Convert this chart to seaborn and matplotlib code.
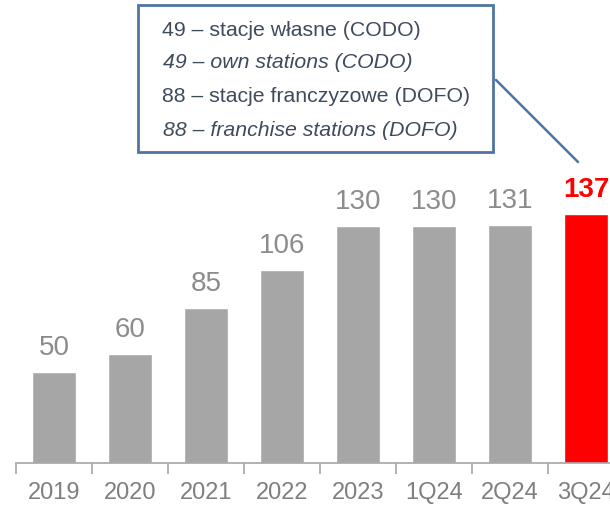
import seaborn as sns
import matplotlib.pyplot as plt
import pandas as pd
from matplotlib.patches import Rectangle
from matplotlib.lines import Line2D

# Dane
okresy = ['2019', '2020', '2021', '2022', '2023', '1Q24', '2Q24', '3Q24']
stacje = [50, 60, 85, 106, 130, 130, 131, 137]
kolory = ['#a6a6a6'] * 7 + ['#ff0000']
opis = ['49 – stacje własne (CODO)',
        '49 – own stations (CODO)',
        '88 – stacje franczyzowe (DOFO)',
        '88 – franchise stations (DOFO)']

sns.set_style("white")
plt.rcParams['font.family'] = ['Liberation Sans', 'DejaVu Sans']

df = pd.DataFrame({'okres': okresy, 'stacje': stacje})

W, H = 610, 505
fig = plt.figure(figsize=(W / 100, H / 100), dpi=100)
# os wykresu wychodzi poza prawa krawedz (ostatni slupek uciety jak w oryginale)
ax = fig.add_axes([16 / W, 42 / H, 608 / W, 298 / H])

sns.barplot(data=df, x='okres', y='stacje', hue='okres', palette=kolory,
            legend=False, width=0.57, saturation=1, ax=ax)

ax.set_xlim(-0.5, 7.5)
ax.set_ylim(0, 298 / 1.82)
ax.set_xlabel('')
ax.set_ylabel('')
ax.set_yticks([])
for s in ['top', 'right', 'left']:
    ax.spines[s].set_visible(False)
ax.spines['bottom'].set_color('#a6a6a6')
ax.spines['bottom'].set_linewidth(1.2)

ax.set_xticks(range(len(okresy)))
ax.set_xticklabels(okresy, fontsize=17, color='#7f7f7f')
ax.tick_params(axis='x', which='major', length=0, pad=14)
ax.set_xticks([i - 0.5 for i in range(len(okresy) + 1)], minor=True)
ax.tick_params(axis='x', which='minor', bottom=True, length=8, width=1.2,
               color='#a6a6a6')

for i, v in enumerate(stacje):
    if i == len(stacje) - 1:
        ax.text(i, v + 6, str(v), ha='center', va='bottom', fontsize=20,
                color='#ff0000', fontweight='bold')
    else:
        ax.text(i, v + 6, str(v), ha='center', va='bottom', fontsize=20,
                color='#8c8c8c')

# ramka z opisem
fig.patches.append(Rectangle((138 / W, 1 - 152 / H), (493 - 138) / W, 147 / H,
                             transform=fig.transFigure, fill=False,
                             edgecolor='#4f74a0', linewidth=2))
fig.lines.append(Line2D([496 / W, 578 / W], [1 - 80 / H, 1 - 162 / H],
                        transform=fig.transFigure, color='#4f74a0', linewidth=1.8))
ys = [31, 63, 97, 130]
xs = [162, 163, 162, 163]
for t, x, y, k in zip(opis, xs, ys, range(4)):
    fig.text(x / W, 1 - y / H, t, fontsize=15.3, color='#3f4b5c',
             va='center', ha='left', style='italic' if k % 2 else 'normal')

plt.savefig('out.png', dpi=100)
